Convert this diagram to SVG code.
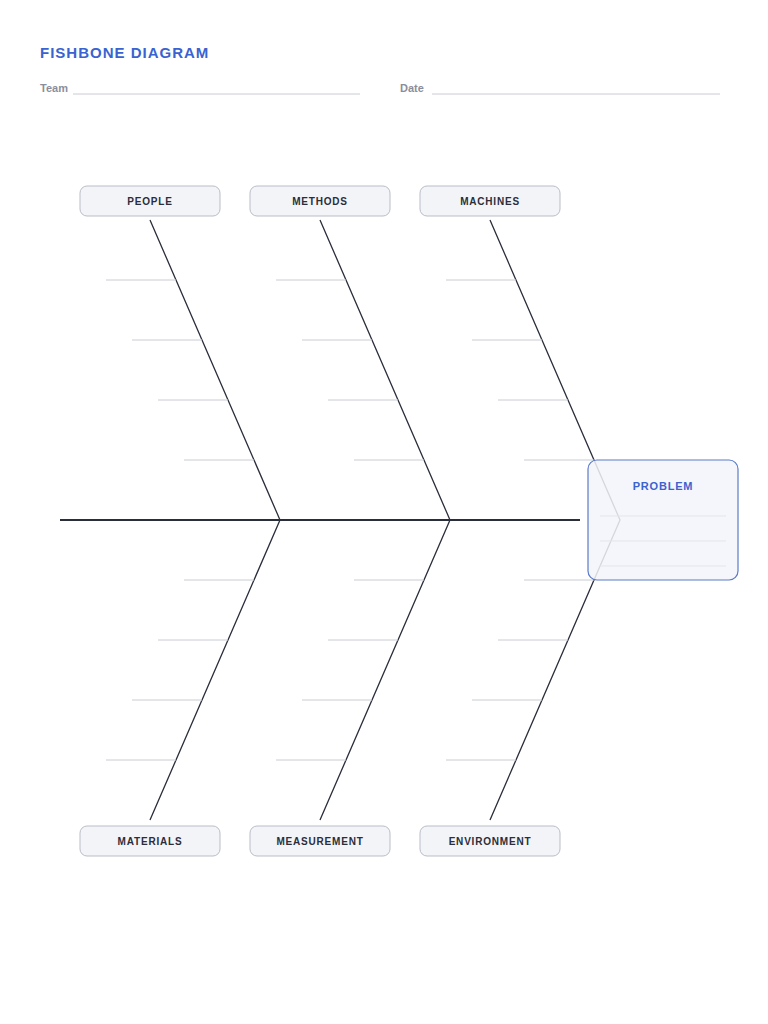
<svg xmlns="http://www.w3.org/2000/svg" width="768" height="1024" viewBox="0 0 768 1024">
<style>
.t{font-family:"Liberation Sans",Arial,sans-serif;font-weight:bold}
.lbl{font-size:10px;fill:#2a2e3a;letter-spacing:0.8px;text-anchor:middle}
.box{fill:#f3f4f8;stroke:#b9bdc8;stroke-width:1}
.rib{stroke:#c9ccd3;stroke-width:1}
.bone{stroke:#2a2e3a;stroke-width:1.3;fill:none}
</style>
<rect width="768" height="1024" fill="#fff"/>
<text x="40" y="58" class="t" font-size="15" fill="#3a63d0" letter-spacing="1">FISHBONE DIAGRAM</text>
<text x="40" y="92" class="t" font-size="11" fill="#8a8e9c">Team</text>
<line x1="73" y1="94" x2="360" y2="94" stroke="#c9ccd3"/>
<text x="400" y="92" class="t" font-size="11" fill="#8a8e9c">Date</text>
<line x1="432" y1="94" x2="720" y2="94" stroke="#c9ccd3"/>
<g id="connectors">
<line x1="60" y1="520" x2="580" y2="520" stroke="#2a2e3a" stroke-width="2"/>
<path class="bone" d="M150 220L280 520L150 820M320 220L450 520L320 820M490 220L620 520L490 820"/>
<g class="rib">
<path d="M106 280h70M132 340h70M158 400h70M184 460h70M184 580h70M158 640h70M132 700h70M106 760h70"/>
<path d="M276 280h70M302 340h70M328 400h70M354 460h70M354 580h70M328 640h70M302 700h70M276 760h70"/>
<path d="M446 280h70M472 340h70M498 400h70M524 460h70M524 580h70M498 640h70M472 700h70M446 760h70"/>
</g>
</g>
<g id="people"><rect class="box" x="80" y="186" width="140" height="30" rx="7"/><text class="t lbl" x="150" y="205">PEOPLE</text></g>
<g id="methods"><rect class="box" x="250" y="186" width="140" height="30" rx="7"/><text class="t lbl" x="320" y="205">METHODS</text></g>
<g id="machines"><rect class="box" x="420" y="186" width="140" height="30" rx="7"/><text class="t lbl" x="490" y="205">MACHINES</text></g>
<g id="materials"><rect class="box" x="80" y="826" width="140" height="30" rx="7"/><text class="t lbl" x="150" y="845">MATERIALS</text></g>
<g id="measurement"><rect class="box" x="250" y="826" width="140" height="30" rx="7"/><text class="t lbl" x="320" y="845">MEASUREMENT</text></g>
<g id="environment"><rect class="box" x="420" y="826" width="140" height="30" rx="7"/><text class="t lbl" x="490" y="845">ENVIRONMENT</text></g>
<g id="problem">
<rect x="588" y="460" width="150" height="120" rx="9" fill="#f3f5fa" fill-opacity="0.85" stroke="#5a7cc8" stroke-width="1.2"/>
<text class="t" x="663" y="490" font-size="11" fill="#3a63d0" text-anchor="middle" letter-spacing="0.8">PROBLEM</text>
<path d="M600 516h126M600 541h126M600 566h126" stroke="#e3e5ea"/>
</g>
</svg>
